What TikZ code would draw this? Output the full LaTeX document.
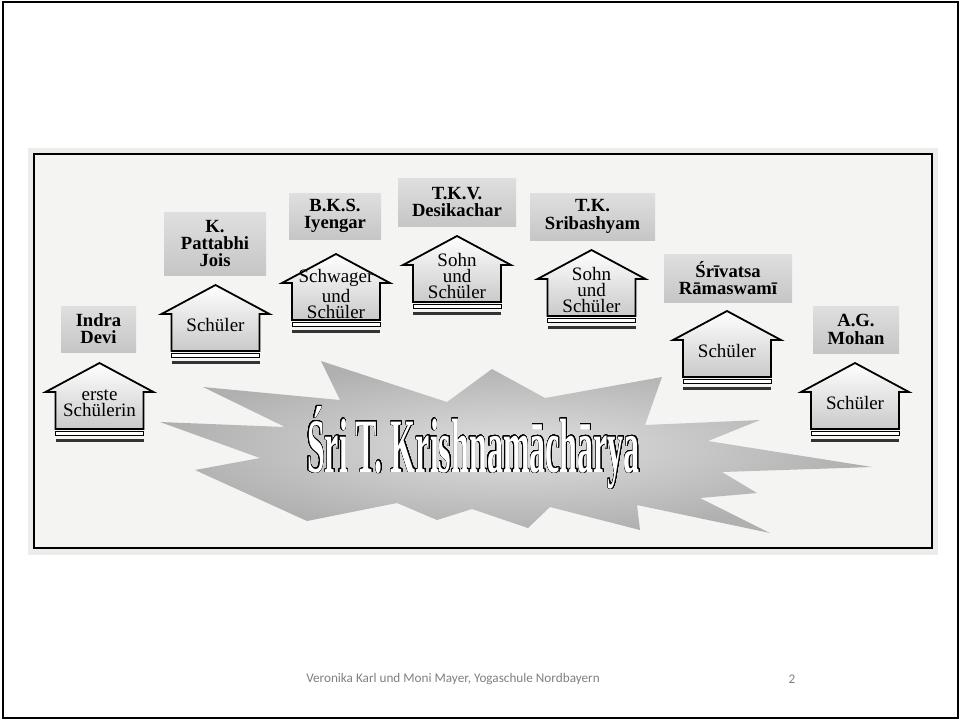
\documentclass[tikz,border=0pt]{standalone}
\usepackage{fontspec}
\setmainfont{Liberation Serif}
\newfontfamily\footfont{Carlito}
\usepackage{graphicx}
\usepackage[copies]{contour}
\contourlength{0.32pt}
\contournumber{32}
\definecolor{scanbg}{RGB}{236,236,234}
\definecolor{pagebg}{RGB}{244,244,242}
\definecolor{footgray}{RGB}{128,128,128}
\tikzset{
  namebox/.style={top color=gray!25,bottom color=gray!45,inner sep=0pt,align=center,
                  font=\fontsize{9.3}{8.6}\selectfont\bfseries},
  housetext/.style={align=center,inner sep=0pt,font=\fontsize{9.5}{8}\selectfont},
  house/.pic={
    \shade[top color=white,bottom color=gray!42,draw=black,line width=0.9pt]
      (-44,37) -- (-44,0) -- (-54,0) -- (0,-29) -- (54,0) -- (44,0) -- (44,37) -- cycle;
    \draw[fill=white,line width=0.5pt] (-44,39.5) rectangle (44,43.5);
    \fill[black!80] (-44,46.5) rectangle (44,50);
    \node[housetext] (-txt) at (0,11) {#1};
  },
}

\begin{document}
\begin{tikzpicture}[x=0.5pt,y=-0.5pt]
  \useasboundingbox (0,0) rectangle (961,720);
  \fill[white] (0,0) rectangle (961,720);
  \draw[line width=1pt] (3,2) rectangle (958,718);

  % scanned page
  \fill[scanbg] (28,148) rectangle (938,555);
  \draw[fill=pagebg,line width=0.75pt] (34,154) rectangle (932,548);

  % the star
  \shade[inner color=gray!25,outer color=gray!62]
    (160,422) -- (285,427) -- (203,387) -- (340,400) -- (321,361) -- (447,402)
    -- (492,369) -- (545,398) -- (662,377) -- (645,425) -- (760,420) -- (708,441)
    -- (872,467) -- (722,472) -- (757,493) -- (700,498) -- (770,533) -- (637,505)
    -- (640,530) -- (550,507) -- (528,528) -- (472,509) -- (437,520) -- (397,503)
    -- (307,521) -- (195,470) -- (260,458) -- cycle;
  \node[anchor=base,inner sep=0pt] (guru) at (473.5,472)
    {\resizebox{166.5pt}{33pt}{\fontsize{30}{32}\selectfont\bfseries\color{white}\contour{black}{Śri T. Krishnamāchārya}}};

  % names
  \node[namebox,minimum width=37.5pt,minimum height=23pt] (indra) at (98.5,329) {Indra\\Devi};
  \node[namebox,minimum width=51pt,minimum height=31.5pt] (jois) at (215,243.5) {K.\\Pattabhi\\Jois};
  \node[namebox,minimum width=46pt,minimum height=23pt] (iyengar) at (335,216) {B.K.S.\\Iyengar};
  \node[namebox,minimum width=59pt,minimum height=24pt] (desikachar) at (457,202) {T.K.V.\\Desikachar};
  \node[namebox,minimum width=62.5pt,minimum height=23.5pt] (sribashyam) at (592.5,216.5) {T.K.\\Sribashyam};
  \node[namebox,minimum width=64pt,minimum height=24pt] (ramaswami) at (728,278) {Śrīvatsa\\Rāmaswamī};
  \node[namebox,minimum width=43pt,minimum height=23.5pt] (mohan) at (856,329.5) {A.G.\\Mohan};

  % houses
  \pic (hindra) at (99.5,392) {house={erste\\Schülerin}};
  \pic (hjois) at (215.5,314) {house={Schüler}};
  \pic (hiyengar) at (336,283) {house={Schwager\\und\\Schüler}};
  \pic (hdesikachar) at (457,265) {house={Sohn\\und\\Schüler}};
  \pic (hsribashyam) at (591.5,279) {house={Sohn\\und\\Schüler}};
  \pic (hramaswami) at (727,340) {house={Schüler}};
  \pic (hmohan) at (855,392) {house={Schüler}};

  % footer
  \node[font=\footfont\fontsize{6.6}{8}\selectfont,text=footgray] (credit) at (453,679)
    {Veronika Karl und Moni Mayer, Yogaschule Nordbayern};
  \node[font=\footfont\fontsize{6.6}{8}\selectfont,text=footgray] (pagenum) at (792,679) {2};
\end{tikzpicture}
\end{document}
